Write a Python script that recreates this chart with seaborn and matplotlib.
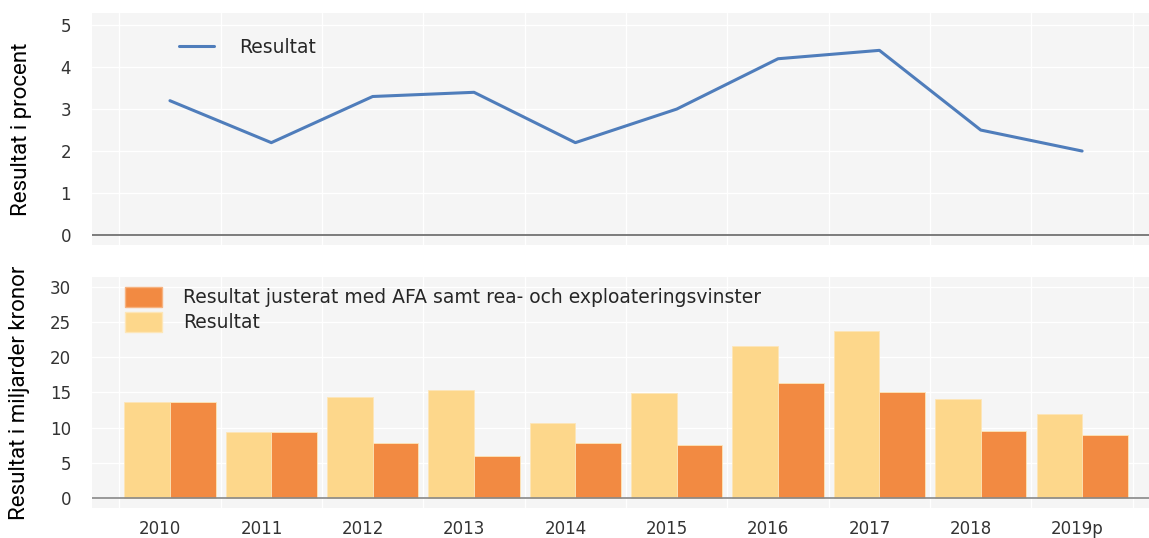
import pandas as pd
import numpy as np
import matplotlib.pyplot as plt
import matplotlib.transforms as mtransforms
import seaborn as sns
from matplotlib.patches import Patch
from matplotlib.lines import Line2D
from matplotlib.ticker import MultipleLocator

# ==================== Data ====================
years = ['2010', '2011', '2012', '2013', '2014', '2015', '2016', '2017', '2018', '2019p']
resultat_procent = [3.2, 2.2, 3.3, 3.4, 2.2, 3.0, 4.2, 4.4, 2.5, 2.0]
resultat_mdkr = [13.6, 9.4, 14.3, 15.3, 10.6, 14.9, 21.6, 23.8, 14.1, 11.9]
justerat_mdkr = [13.6, 9.4, 7.8, 5.9, 7.8, 7.5, 16.3, 15.0, 9.5, 8.9]

lbl_res = 'Resultat'
lbl_just = 'Resultat justerat med AFA samt rea- och exploateringsvinster'

blue = '#4f7dbb'
light = '#fdd78b'
orange = '#f28a42'

sns.set_theme(style='darkgrid')
plt.rcParams['font.family'] = ['DejaVu Sans']
plt.rcParams['axes.facecolor'] = '#f5f5f5'
plt.rcParams['grid.color'] = 'white'
plt.rcParams['grid.linewidth'] = 1.0

df_line = pd.DataFrame({'year': years, 'value': resultat_procent})
df_bar = pd.DataFrame({
    'year': years * 2,
    'value': resultat_mdkr + justerat_mdkr,
    'serie': [lbl_res] * len(years) + [lbl_just] * len(years),
})

fig = plt.figure(figsize=(11.49, 5.38), dpi=100)
ax1 = fig.add_axes([0.080, 0.5446, 0.920, 0.4312])
ax2 = fig.add_axes([0.080, 0.0558, 0.920, 0.4292])

xlim = (-0.77, 9.66)
tick_kw = dict(labelsize=12, labelcolor='#333333')
label_font = dict(family=['Roboto', 'DejaVu Sans'], fontsize=16, color='black')

# ==================== Top: line ====================
sns.lineplot(data=df_line, x='year', y='value', ax=ax1, color=blue, linewidth=2.2, sort=False)
ax1.axhline(0, color='#666666', linewidth=1.2)
ax1.set_xlim(*xlim)
ax1.set_ylim(-0.24, 5.29)
ax1.yaxis.set_major_locator(MultipleLocator(1))
ax1.set_xticks(np.arange(len(years)))
ax1.set_xticks(np.arange(-0.5, len(years)), minor=True)
ax1.grid(False, axis='x', which='major')
ax1.grid(True, axis='x', which='minor', color='white')
ax1.tick_params(axis='x', which='both', length=0, labelbottom=False)
ax1.tick_params(axis='y', length=0, pad=15, **tick_kw)
ax1.set_xlabel('')
ax1.set_ylabel('Resultat i procent', **label_font)
ax1.yaxis.set_label_coords(-0.057, 0.5)
ax1.legend(handles=[Line2D([0], [0], color=blue, linewidth=2.2)], labels=[lbl_res],
           loc='upper left', bbox_to_anchor=(0.066, 0.967), frameon=False,
           fontsize=13.5, handlelength=1.9, handletextpad=1.35)
for s in ax1.spines.values():
    s.set_visible(False)

# ==================== Bottom: bars ====================
sns.barplot(data=df_bar, x='year', y='value', hue='serie', hue_order=[lbl_res, lbl_just],
            palette=[light, orange], saturation=1, width=0.9, ax=ax2,
            edgecolor='#fde6b8', linewidth=0.6, legend=False)
ax2.axhline(0, color='#888888', linewidth=1.2)
ax2.set_xlim(*xlim)
ax2.set_ylim(-1.42, 31.4)
ax2.yaxis.set_major_locator(MultipleLocator(5))
ax2.set_xticks(np.arange(len(years)))
ax2.set_xticklabels(years)
ax2.set_xticks(np.arange(-0.5, len(years)), minor=True)
ax2.grid(False, axis='x', which='major')
ax2.grid(True, axis='x', which='minor', color='white')
ax2.tick_params(axis='x', which='both', length=0, pad=9, **tick_kw)
ax2.tick_params(axis='y', length=0, pad=15, **tick_kw)
shift = mtransforms.ScaledTranslation(-31 / 100, 0, fig.dpi_scale_trans)
for lab in ax2.get_xticklabels():
    lab.set_horizontalalignment('left')
    lab.set_transform(lab.get_transform() + shift)
ax2.set_xlabel('')
ax2.set_ylabel('Resultat i miljarder kronor', **label_font)
ax2.yaxis.set_label_coords(-0.059, 0.5)
handles = [Patch(facecolor=orange, edgecolor='#f6b27f'), Patch(facecolor=light, edgecolor='#fde6b8')]
ax2.legend(handles=handles, labels=[lbl_just, lbl_res], loc='upper left',
           bbox_to_anchor=(0.015, 1.03), frameon=False, fontsize=13.5,
           handlelength=2.0, handleheight=1.25, handletextpad=1.1, labelspacing=0.25)
for s in ax2.spines.values():
    s.set_visible(False)

fig.savefig('out.png', dpi=100)
